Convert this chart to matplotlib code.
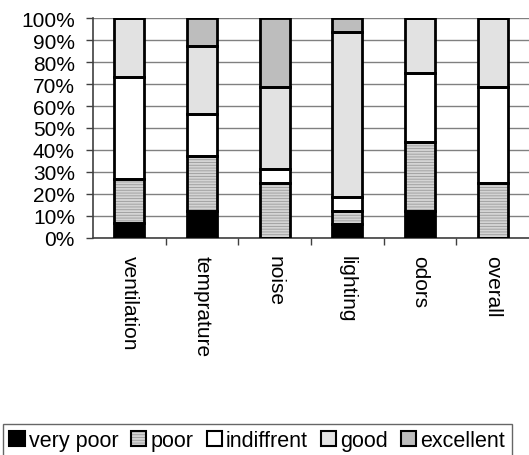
import numpy as np
import matplotlib
matplotlib.use("Agg")
import matplotlib.pyplot as plt
from matplotlib.patches import Patch
from matplotlib.legend_handler import HandlerTuple
from matplotlib.ticker import FixedLocator, PercentFormatter

categories = ["ventilation", "temprature", "noise", "lighting", "odors", "overall"]
levels = ["very poor", "poor", "indiffrent", "good", "excellent"]

# share of answers per category (%)
very_poor = [6.67, 12.5, 0.0, 6.25, 12.5, 0.0]
poor = [20.0, 25.0, 25.0, 6.25, 31.25, 25.0]
indiffrent = [46.67, 18.75, 6.25, 6.25, 31.25, 43.75]
good = [26.66, 31.25, 37.5, 75.0, 25.0, 31.25]
excellent = [0.0, 12.5, 31.25, 6.25, 0.0, 0.0]

series = [very_poor, poor, indiffrent, good, excellent]
fills = ["#000000", "#d4d4d4", "#ffffff", "#e2e2e2", "#bdbdbd"]
hatches = [None, "------", None, None, None]

plt.rcParams["font.family"] = ["Liberation Sans", "DejaVu Sans"]
plt.rcParams["hatch.color"] = "#9a9a9a"
plt.rcParams["hatch.linewidth"] = 0.6

fig = plt.figure(figsize=(5.29, 4.56), dpi=100)
ax = fig.add_axes([93 / 529, 1 - 239 / 456, 1 - 93 / 529, 220 / 456])

x = np.arange(len(categories))
width = 0.41
bottom = np.zeros(len(categories))
handles = []
for vals, fc, h in zip(series, fills, hatches):
    vals = np.array(vals)
    ax.bar(x, vals, width, bottom=bottom, color=fc, hatch=h, linewidth=0, zorder=2)
    ax.bar(x, vals, width, bottom=bottom, fill=False, edgecolor="black", linewidth=2.0, zorder=3)
    bottom += vals
    handles.append((Patch(facecolor=fc, hatch=h, linewidth=0),
                    Patch(fill=False, edgecolor="black", linewidth=1.5)))

ax.set_xlim(-0.5, len(categories) - 0.5)
ax.set_ylim(0, 100)
ax.set_yticks(np.arange(0, 101, 10))
ax.yaxis.set_major_formatter(PercentFormatter(decimals=0))
ax.yaxis.grid(True, color="#808080", linewidth=1.0, zorder=0)
ax.set_axisbelow(True)

ax.set_xticks(x)
ax.set_xticklabels(categories, rotation=270, va="top", ha="center")
ax.xaxis.set_minor_locator(FixedLocator(np.arange(0.5, len(categories) - 0.5, 1.0)))
ax.tick_params(axis="x", which="major", length=0, pad=12, labelsize=15)
ax.tick_params(axis="x", which="minor", length=5, width=1, color="#404040")
ax.tick_params(axis="y", length=5, width=1, color="#404040", pad=8, labelsize=15)

for side in ["top", "right"]:
    ax.spines[side].set_visible(False)
for side in ["left", "bottom"]:
    ax.spines[side].set_color("#404040")
    ax.spines[side].set_linewidth(1.2)

leg = fig.legend(handles, levels, handler_map={tuple: HandlerTuple(ndivide=1)},
                 loc="upper left", bbox_to_anchor=(3 / 529, 1 - 425 / 456), ncol=5,
                 fontsize=15.5, frameon=True, fancybox=False, handlelength=0.7,
                 handleheight=0.7, handletextpad=0.2, columnspacing=0.6,
                 borderpad=0.3, borderaxespad=0)
leg.get_frame().set_edgecolor("#404040")
leg.get_frame().set_linewidth(1.0)

fig.savefig("out.png", dpi=100)
